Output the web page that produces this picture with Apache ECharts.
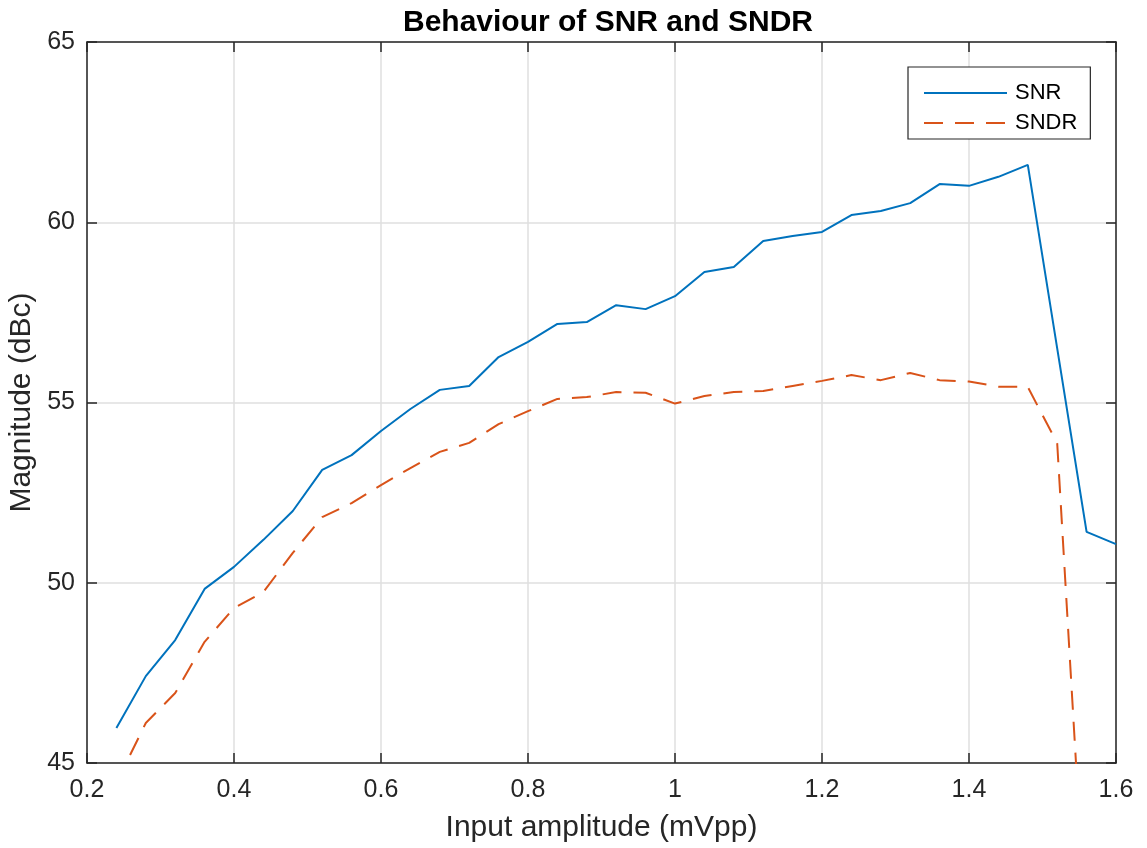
<!DOCTYPE html>
<html>
<head>
<meta charset="utf-8">
<style>
  html, body { margin: 0; padding: 0; background: #fff; }
  #chart { width: 1147px; height: 848px; }
</style>
<script src="https://cdn.jsdelivr.net/npm/echarts@6/dist/echarts.min.js"></script>
</head>
<body>
<div id="chart"></div>
<script>
// Input amplitude sweep (mVpp)
const amplitude = [0.24, 0.28, 0.32, 0.36, 0.40, 0.44, 0.48, 0.52, 0.56, 0.60,
  0.64, 0.68, 0.72, 0.76, 0.80, 0.84, 0.88, 0.92, 0.96, 1.00,
  1.04, 1.08, 1.12, 1.16, 1.20, 1.24, 1.28, 1.32, 1.36, 1.40,
  1.44, 1.48, 1.52, 1.56, 1.60];

// Measured SNR (dBc)
const snr = [45.97, 47.41, 48.41, 49.83, 50.44, 51.19, 51.99, 53.13, 53.54, 54.21,
  54.82, 55.35, 55.46, 56.26, 56.68, 57.18, 57.23, 57.70, 57.59, 57.95,
  58.62, 58.76, 59.48, 59.62, 59.73, 60.20, 60.31, 60.53, 61.06, 61.01,
  61.26, 61.59, 56.50, 51.41, 51.07];

// Measured SNDR (dBc)
const sndr = [44.45, 46.11, 46.94, 48.36, 49.30, 49.74, 50.83, 51.82, 52.21, 52.71,
  53.18, 53.63, 53.88, 54.40, 54.76, 55.10, 55.15, 55.29, 55.27, 54.97,
  55.18, 55.29, 55.32, 55.46, 55.60, 55.76, 55.62, 55.82, 55.62, 55.58,
  55.44, 55.43, 53.87, 40.00, 39.80];

const FONT = 'Liberation Sans, Arial, Helvetica, sans-serif';
const AXIS_COLOR = '#262626';

const chart = echarts.init(document.getElementById('chart'), null, { renderer: 'canvas' });

const pairs = (ys) => amplitude.map((x, i) => [x, ys[i]]);

// Shared settings for the boxed frame (ticks point inward on all four sides)
const boxAxisX = {
  type: 'value', min: 0.2, max: 1.6, interval: 0.2,
  axisLine: { show: true, onZero: false, lineStyle: { color: AXIS_COLOR, width: 1.5 } },
  axisTick: { show: true, inside: true, length: 10, lineStyle: { color: AXIS_COLOR, width: 1.5 } }
};
const boxAxisY = {
  type: 'value', min: 45, max: 65, interval: 5,
  axisLine: { show: true, onZero: false, lineStyle: { color: AXIS_COLOR, width: 1.5 } },
  axisTick: { show: true, inside: true, length: 10, lineStyle: { color: AXIS_COLOR, width: 1.5 } }
};

chart.setOption({
  animation: false,
  backgroundColor: '#ffffff',
  title: {
    text: 'Behaviour of SNR and SNDR',
    left: 603, top: 3, textAlign: 'center',
    textStyle: { fontFamily: FONT, fontSize: 30, fontWeight: 'bold', color: '#000' }
  },
  grid: { left: 87, right: 31, top: 42, bottom: 85, containLabel: false, outerBoundsMode: 'none' },
  legend: {
    orient: 'vertical',
    left: 908, top: 67,
    padding: [15, 13, 5, 15],
    itemGap: 8,
    itemWidth: 83, itemHeight: 22,
    backgroundColor: '#ffffff',
    borderColor: '#262626', borderWidth: 1.2,
    itemStyle: { opacity: 0 },
    textStyle: { fontFamily: FONT, fontSize: 22, color: '#000', padding: [0, 0, 0, 3] },
    data: ['SNR', 'SNDR']
  },
  xAxis: [
    Object.assign({}, boxAxisX, {
      position: 'bottom',
      name: 'Input amplitude (mVpp)',
      nameLocation: 'middle', nameGap: 50,
      nameTextStyle: { fontFamily: FONT, fontSize: 30, color: '#262626' },
      axisLabel: { fontFamily: FONT, fontSize: 25, color: '#262626', margin: 15 },
      splitLine: { show: true, lineStyle: { color: '#dfdfdf', width: 1.5 } }
    }),
    Object.assign({}, boxAxisX, {
      position: 'top',
      axisLabel: { show: false },
      splitLine: { show: false }
    })
  ],
  yAxis: [
    Object.assign({}, boxAxisY, {
      position: 'left',
      name: 'Magnitude (dBc)',
      nameLocation: 'middle', nameGap: 49,
      nameTextStyle: { fontFamily: FONT, fontSize: 30, color: '#262626' },
      axisLabel: { fontFamily: FONT, fontSize: 25, color: '#262626', margin: 12 },
      splitLine: { show: true, lineStyle: { color: '#dfdfdf', width: 1.5 } }
    }),
    Object.assign({}, boxAxisY, {
      position: 'right',
      axisLabel: { show: false },
      splitLine: { show: false }
    })
  ],
  series: [
    {
      name: 'SNR', type: 'line',
      xAxisIndex: 0, yAxisIndex: 0,
      data: pairs(snr),
      symbol: 'none', clip: true,
      itemStyle: { color: '#0072BD' },
      lineStyle: { color: '#0072BD', width: 2 }
    },
    {
      name: 'SNDR', type: 'line',
      xAxisIndex: 0, yAxisIndex: 0,
      data: pairs(sndr),
      symbol: 'none', clip: true,
      itemStyle: { color: '#D95319' },
      lineStyle: { color: '#D95319', width: 2, type: [19, 12] }
    }
  ]
});
</script>
</body>
</html>
